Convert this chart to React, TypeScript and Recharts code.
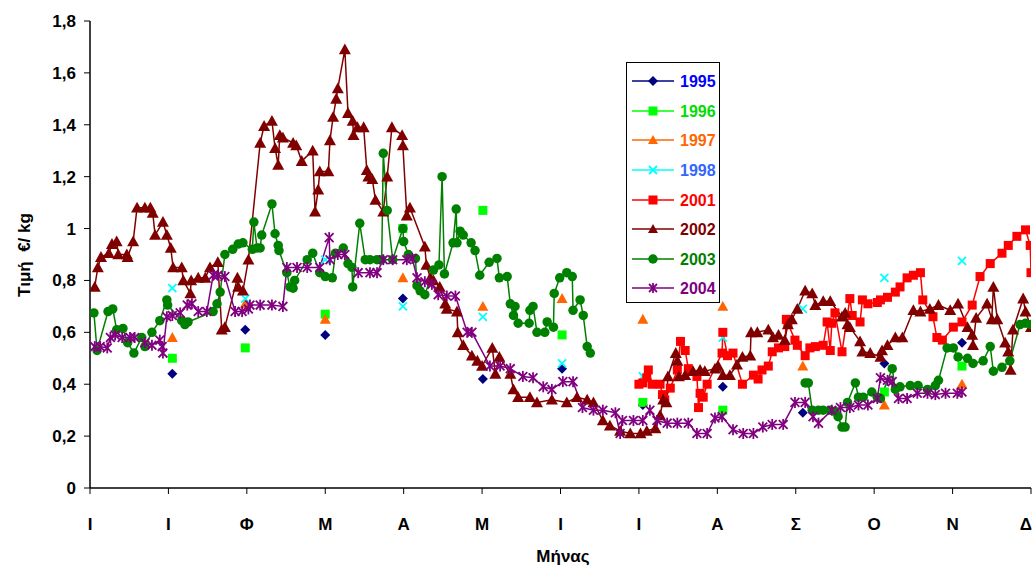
import React from 'react';
import { LineChart, Line, XAxis, YAxis, Label } from 'recharts';

// ---- axis data ----
const monthLabels = ['Ι', 'Ι', 'Φ', 'Μ', 'Α', 'Μ', 'Ι', 'Ι', 'Α', 'Σ', 'Ο', 'Ν', 'Δ'];
const monthTicks = [0, 1, 2, 3, 4, 5, 6, 7, 8, 9, 10, 11, 12];
const valueTicks = [0, 0.2, 0.4, 0.6, 0.8, 1, 1.2, 1.4, 1.6, 1.8];

// ---- monthly (sparse) series ----
const sparseX = [1.05, 1.98, 3.0, 3.99, 5.01, 6.02, 7.05, 8.07, 9.09, 10.13, 11.12];
const v1995 = [0.44, 0.61, 0.59, 0.73, 0.42, 0.46, 0.32, 0.39, 0.29, 0.48, 0.56];
const v1996 = [0.5, 0.54, 0.67, 1.0, 1.07, 0.59, 0.33, 0.3, null, 0.37, 0.47];
const v1997 = [0.58, 0.71, 0.65, 0.81, 0.7, 0.73, 0.65, 0.7, 0.47, 0.32, 0.4];
const v1998 = [0.77, 0.73, 0.88, 0.7, 0.66, 0.48, 0.43, 0.58, 0.69, 0.81, 0.875];

// ---- daily series [month position, €/kg] ----
const s2001: [number, number | null][] = [
  [7.0, 0.4], [7.05, 0.405], [7.1, 0.425], [7.12, 0.455], [7.17, 0.4], [7.27, 0.4], [7.3, 0.36], [7.33, 0.34],
  [7.4, 0.385], [7.49, 0.455], [7.53, 0.565], [7.59, 0.53], [7.63, 0.46], [7.74, 0.43], [7.76, 0.31], [7.78, 0.365],
  [7.82, 0.35], [7.87, 0.4], [8.06, 0.52], [8.07, 0.6], [8.13, 0.51], [8.2, 0.52], [8.32, 0.4], [8.46, 0.435],
  [8.52, 0.42], [8.57, 0.455], [8.65, 0.47], [8.7, 0.525], [8.78, 0.54], [8.86, 0.545], [8.88, 0.65], [8.9, 0.635],
  [8.99, 0.57], [9.02, 0.55], [9.12, 0.51], [9.18, 0.54], [9.25, 0.545], [9.35, 0.55], [9.4, 0.64], [9.44, 0.53],
  [9.46, 0.635], [9.5, 0.675], [9.59, 0.525], [9.69, 0.73], [9.72, 0.665], [9.82, 0.64], [9.85, 0.725], [9.92, 0.71],
  [10.04, 0.715], [10.08, 0.725], [10.17, 0.735], [10.27, 0.755], [10.33, 0.775], [10.42, 0.81], [10.5, 0.82],
  [10.59, 0.83], [10.62, 0.725], [10.75, 0.66], [10.8, 0.58], [10.87, 0.57], [11.01, 0.62], [11.12, 0.64],
  [11.25, 0.705], [11.35, 0.815], [11.48, 0.865], [11.63, 0.905], [11.71, 0.935], [11.82, 0.97], [11.93, 0.995],
  [11.99, 0.935], [12.0, 0.83],
];

const s2002: [number, number | null][] = [
  [0.06, 0.775], [0.1, 0.85], [0.14, 0.89], [0.24, 0.905], [0.28, 0.94], [0.34, 0.95], [0.36, 0.9], [0.47, 0.9],
  [0.48, 0.89], [0.55, 0.95], [0.6, 1.08], [0.7, 1.08], [0.77, 1.08], [0.8, 1.06], [0.83, 0.975], [0.93, 1.025],
  [0.98, 0.975], [1.03, 0.925], [1.06, 0.85], [1.17, 0.85], [1.19, 0.8], [1.28, 0.75], [1.29, 0.8], [1.38, 0.81],
  [1.47, 0.81], [1.53, 0.85], [1.63, 0.87], [1.68, 0.61], [1.72, 0.62], [1.88, 0.81], [1.89, 0.775], [1.95, 0.76],
  [2.02, 0.88], [2.17, 1.33], [2.22, 1.395], [2.32, 1.415], [2.36, 1.31], [2.4, 1.245], [2.42, 1.36], [2.46, 1.35],
  [2.59, 1.33], [2.63, 1.32], [2.7, 1.26], [2.84, 1.3], [2.87, 1.065], [2.91, 1.15], [2.93, 1.22], [3.04, 1.22],
  [3.06, 1.34], [3.1, 1.43], [3.14, 1.5], [3.16, 1.54], [3.25, 1.69], [3.29, 1.445], [3.35, 1.415], [3.36, 1.36],
  [3.41, 1.39], [3.49, 1.39], [3.53, 1.225], [3.55, 1.2], [3.6, 1.19], [3.64, 1.11], [3.74, 1.065], [3.79, 1.2],
  [3.85, 1.39], [3.98, 1.36], [3.99, 1.32], [4.04, 1.05], [4.08, 1.08], [4.27, 0.93], [4.29, 0.86], [4.34, 0.81],
  [4.38, 0.8], [4.46, 0.775], [4.53, 0.71], [4.55, 0.69], [4.68, 0.68], [4.69, 0.6], [4.76, 0.55], [4.87, 0.51],
  [4.94, 0.49], [5.0, 0.47], [5.13, 0.54], [5.17, 0.44], [5.22, 0.505], [5.36, 0.44], [5.4, 0.38], [5.46, 0.35],
  [5.61, 0.35], [5.7, 0.33], [5.89, 0.34], [6.08, 0.33], [6.21, 0.35], [6.34, 0.34], [6.42, 0.33], [6.54, 0.26],
  [6.63, 0.24], [6.76, 0.22], [6.89, 0.21], [7.02, 0.21], [7.1, 0.22], [7.21, 0.23], [7.27, 0.28], [7.31, 0.34],
  [7.35, 0.33], [7.37, 0.43], [7.47, 0.52], [7.49, 0.49], [7.51, 0.43], [7.59, 0.435], [7.69, 0.45], [7.78, 0.455],
  [7.84, 0.45], [7.97, 0.46], [8.01, 0.47], [8.07, 0.435], [8.16, 0.435], [8.25, 0.475], [8.32, 0.505], [8.42, 0.51],
  [8.43, 0.6], [8.51, 0.6], [8.65, 0.61], [8.71, 0.58], [8.78, 0.59], [8.86, 0.57], [8.9, 0.63], [8.95, 0.65],
  [9.02, 0.69], [9.12, 0.76], [9.21, 0.75], [9.25, 0.705], [9.35, 0.72], [9.44, 0.72], [9.59, 0.66], [9.63, 0.675],
  [9.66, 0.63], [9.69, 0.62], [9.82, 0.565], [9.85, 0.525], [9.95, 0.52], [10.08, 0.505], [10.1, 0.53], [10.17, 0.55],
  [10.27, 0.58], [10.36, 0.58], [10.5, 0.685], [10.59, 0.68], [10.71, 0.69], [10.82, 0.705], [10.97, 0.685],
  [11.07, 0.71], [11.19, 0.62], [11.25, 0.59], [11.26, 0.55], [11.3, 0.655], [11.44, 0.71], [11.5, 0.65],
  [11.52, 0.775], [11.57, 0.65], [11.67, 0.56], [11.71, 0.525], [11.74, 0.455], [11.77, 0.61], [11.9, 0.73],
  [11.93, 0.68], [12.0, 0.62],
];

const s2003: [number, number | null][] = [
  [0.05, 0.675], [0.09, 0.53], [0.23, 0.68], [0.29, 0.69], [0.34, 0.61], [0.42, 0.615], [0.48, 0.56], [0.56, 0.52],
  [0.66, 0.58], [0.7, 0.545], [0.79, 0.6], [0.89, 0.645], [0.98, 0.725], [0.99, 0.705], [1.17, 0.645], [1.21, 0.63],
  [1.25, 0.64], [1.57, 0.68], [1.62, 0.71], [1.66, 0.755], [1.72, 0.9], [1.82, 0.92], [1.89, 0.94], [1.95, 0.945],
  [2.07, 0.92], [2.09, 1.025], [2.13, 0.925], [2.17, 0.925], [2.19, 0.975], [2.32, 1.095], [2.36, 0.98], [2.4, 0.935],
  [2.41, 0.915], [2.51, 0.83], [2.55, 0.775], [2.59, 0.77], [2.61, 0.8], [2.77, 0.88], [2.84, 0.905], [2.93, 0.83],
  [3.0, 0.815], [3.09, 0.81], [3.13, 0.905], [3.23, 0.925], [3.29, 0.865], [3.34, 0.85], [3.35, 0.775], [3.44, 1.02],
  [3.51, 0.88], [3.57, 0.88], [3.66, 0.88], [3.72, 0.88], [3.74, 1.29], [3.79, 1.07], [3.86, 0.88], [3.99, 1.0],
  [4.0, 0.95], [4.06, 0.9], [4.15, 0.885], [4.17, 0.78], [4.21, 0.76], [4.27, 0.745], [4.38, 0.84], [4.45, 0.86],
  [4.49, 1.2], [4.52, 0.825], [4.63, 0.945], [4.67, 1.075], [4.68, 0.945], [4.72, 0.99], [4.76, 0.975], [4.86, 0.945],
  [4.91, 0.915], [4.97, 0.82], [5.09, 0.87], [5.19, 0.885], [5.22, 0.81], [5.32, 0.815], [5.36, 0.71], [5.4, 0.665],
  [5.42, 0.7], [5.46, 0.635], [5.6, 0.635], [5.61, 0.685], [5.65, 0.7], [5.7, 0.6], [5.8, 0.6], [5.83, 0.64],
  [5.91, 0.62], [5.92, 0.75], [5.99, 0.81], [6.08, 0.83], [6.15, 0.815], [6.16, 0.685], [6.25, 0.725], [6.29, 0.665],
  [6.34, 0.545], [6.38, 0.52], [7.5, null],
  [9.12, 0.405], [9.16, 0.405], [9.21, 0.3], [9.29, 0.3], [9.35, 0.3], [9.44, 0.3], [9.5, 0.295], [9.54, 0.275],
  [9.59, 0.235], [9.63, 0.235], [9.66, 0.33], [9.76, 0.405], [9.8, 0.35], [9.86, 0.35], [9.97, 0.37], [10.04, 0.35],
  [10.08, 0.345], [10.23, 0.46], [10.27, 0.38], [10.33, 0.39], [10.46, 0.395], [10.56, 0.395], [10.68, 0.38],
  [10.78, 0.395], [10.82, 0.415], [10.93, 0.54], [11.01, 0.54], [11.07, 0.505], [11.19, 0.5], [11.26, 0.48],
  [11.39, 0.49], [11.48, 0.545], [11.52, 0.45], [11.63, 0.465], [11.73, 0.49], [11.86, 0.63], [11.93, 0.635],
  [12.0, 0.63],
];

const s2004: [number, number | null][] = [
  [0.06, 0.545], [0.13, 0.545], [0.22, 0.54], [0.26, 0.58], [0.32, 0.59], [0.41, 0.58], [0.51, 0.58], [0.57, 0.58],
  [0.7, 0.56], [0.79, 0.55], [0.89, 0.57], [0.92, 0.545], [0.93, 0.52], [0.98, 0.66], [1.05, 0.665], [1.15, 0.675],
  [1.24, 0.705], [1.3, 0.71], [1.38, 0.68], [1.49, 0.68], [1.57, 0.82], [1.63, 0.82], [1.72, 0.815], [1.85, 0.68],
  [1.94, 0.68], [2.02, 0.69], [2.04, 0.705], [2.17, 0.705], [2.32, 0.705], [2.46, 0.7], [2.51, 0.85], [2.64, 0.85],
  [2.77, 0.85], [2.93, 0.85], [3.05, 0.965], [3.06, 0.88], [3.16, 0.9], [3.25, 0.9], [3.42, 0.83], [3.57, 0.83],
  [3.66, 0.83], [3.74, 0.88], [3.86, 0.88], [4.04, 0.88], [4.11, 0.885], [4.17, 0.81], [4.27, 0.795], [4.36, 0.785],
  [4.44, 0.745], [4.55, 0.74], [4.66, 0.74], [4.81, 0.6], [4.87, 0.6], [5.1, 0.47], [5.23, 0.47], [5.36, 0.46],
  [5.52, 0.43], [5.65, 0.425], [5.78, 0.39], [5.89, 0.38], [6.03, 0.41], [6.16, 0.41], [6.28, 0.31], [6.42, 0.3],
  [6.54, 0.3], [6.7, 0.29], [6.76, 0.21], [6.79, 0.26], [6.93, 0.26], [7.05, 0.26], [7.14, 0.3], [7.23, 0.26],
  [7.36, 0.25], [7.49, 0.25], [7.63, 0.25], [7.74, 0.21], [7.87, 0.21], [7.97, 0.27], [8.06, 0.275], [8.2, 0.225],
  [8.33, 0.21], [8.46, 0.21], [8.58, 0.235], [8.7, 0.245], [8.84, 0.245], [8.99, 0.33], [9.12, 0.33], [9.22, 0.275],
  [9.29, 0.25], [9.46, 0.3], [9.57, 0.31], [9.69, 0.31], [9.8, 0.32], [9.92, 0.32], [10.04, 0.345], [10.08, 0.425],
  [10.17, 0.415], [10.23, 0.41], [10.31, 0.345], [10.42, 0.345], [10.55, 0.365], [10.68, 0.365], [10.78, 0.36],
  [10.91, 0.365], [11.06, 0.365], [11.12, 0.37],
];

type Shape = 'diamond' | 'square' | 'triangle' | 'cross' | 'circle' | 'star';

interface SeriesDef {
  name: string;
  color: string;
  textColor: string;
  shape: Shape;
  size: number;
  line: boolean;
  data: { x: number; y: number | null }[];
}

const fromSparse = (vals: (number | null)[]) => sparseX.map((x, i) => ({ x, y: vals[i] }));
const fromPairs = (pairs: [number, number | null][]) => pairs.map(([x, y]) => ({ x, y }));

const series: SeriesDef[] = [
  { name: '1995', color: '#000080', textColor: '#0000ff', shape: 'diamond', size: 10, line: false, data: fromSparse(v1995) },
  { name: '1996', color: '#00ff00', textColor: '#00dd00', shape: 'square', size: 9, line: false, data: fromSparse(v1996) },
  { name: '1997', color: '#ff6600', textColor: '#ff6600', shape: 'triangle', size: 11, line: false, data: fromSparse(v1997) },
  { name: '1998', color: '#00ffff', textColor: '#3366ff', shape: 'cross', size: 10, line: false, data: fromSparse(v1998) },
  { name: '2001', color: '#ff0000', textColor: '#ff0000', shape: 'square', size: 9, line: true, data: fromPairs(s2001) },
  { name: '2002', color: '#800000', textColor: '#800000', shape: 'triangle', size: 12, line: true, data: fromPairs(s2002) },
  { name: '2003', color: '#008000', textColor: '#008000', shape: 'circle', size: 9.5, line: true, data: fromPairs(s2003) },
  { name: '2004', color: '#800080', textColor: '#800080', shape: 'star', size: 11, line: true, data: fromPairs(s2004) },
];

const FONT = '"Liberation Sans", Arial, sans-serif';

const Marker = ({ shape, cx, cy, color, size }: { shape: Shape; cx: number; cy: number; color: string; size: number }) => {
  const s = size / 2;
  switch (shape) {
    case 'diamond':
      return <polygon points={`${cx},${cy - s} ${cx + s},${cy} ${cx},${cy + s} ${cx - s},${cy}`} fill={color} />;
    case 'square':
      return <rect x={cx - s} y={cy - s} width={size} height={size} fill={color} />;
    case 'triangle':
      return <polygon points={`${cx},${cy - s} ${cx + s},${cy + s * 0.8} ${cx - s},${cy + s * 0.8}`} fill={color} />;
    case 'circle':
      return <circle cx={cx} cy={cy} r={s} fill={color} />;
    case 'cross':
      return (
        <g stroke={color} strokeWidth={1.8}>
          <line x1={cx - s * 0.8} y1={cy - s * 0.8} x2={cx + s * 0.8} y2={cy + s * 0.8} />
          <line x1={cx - s * 0.8} y1={cy + s * 0.8} x2={cx + s * 0.8} y2={cy - s * 0.8} />
        </g>
      );
    case 'star':
    default:
      return (
        <g stroke={color} strokeWidth={1.8}>
          <line x1={cx - s * 0.8} y1={cy - s * 0.8} x2={cx + s * 0.8} y2={cy + s * 0.8} />
          <line x1={cx - s * 0.8} y1={cy + s * 0.8} x2={cx + s * 0.8} y2={cy - s * 0.8} />
          <line x1={cx} y1={cy - s} x2={cx} y2={cy + s} />
        </g>
      );
  }
};

const makeDot = (def: SeriesDef) => (props: any) => {
  const { cx, cy, index, value } = props;
  const key = `dot-${def.name}-${index}`;
  if (cx == null || cy == null || value == null || Number.isNaN(cy)) return <g key={key} />;
  return (
    <g key={key}>
      <Marker shape={def.shape} cx={cx} cy={cy} color={def.color} size={def.size} />
    </g>
  );
};

const XTick = (props: any) => {
  const { x, y, payload } = props;
  const isLast = payload.value === monthTicks[monthTicks.length - 1];
  return (
    <text
      x={isLast ? 1032 : x}
      y={y + 34}
      textAnchor={isLast ? 'end' : 'middle'}
      fontFamily={FONT}
      fontWeight="bold"
      fontSize={17}
      fill="#000"
    >
      {monthLabels[payload.value]}
    </text>
  );
};

const fmtValue = (v: number) => (Number.isInteger(v) ? String(v) : v.toFixed(1).replace('.', ','));

const YTick = (props: any) => {
  const { x, y, payload } = props;
  return (
    <text x={x - 6} y={y + 6} textAnchor="end" fontFamily={FONT} fontWeight="bold" fontSize={17} fill="#000">
      {fmtValue(payload.value)}
    </text>
  );
};

const legendRowsY = [81, 111, 140, 170, 200, 229, 259, 288];

const LegendBox = () => (
  <svg width={1033} height={568} style={{ position: 'absolute', left: 0, top: 0, pointerEvents: 'none' }}>
    <rect x={626.5} y={62.5} width={93} height={240} fill="#fff" stroke="#000" strokeWidth={1} />
    {series.map((s, i) => {
      const y = legendRowsY[i];
      return (
        <g key={s.name}>
          <line x1={632} y1={y} x2={674} y2={y} stroke={s.color} strokeWidth={1.5} />
          <Marker shape={s.shape} cx={653} cy={y} color={s.color} size={Math.min(s.size, 10)} />
          <text x={680} y={y + 6} fontFamily={FONT} fontWeight="bold" fontSize={16} fill={s.textColor}>
            {s.name}
          </text>
        </g>
      );
    })}
  </svg>
);

export default function App() {
  return (
    <div style={{ position: 'absolute', left: 0, top: 0, width: 1033, height: 568, background: '#fff' }}>
      <LineChart width={1033} height={568} margin={{ top: 21, right: 2, bottom: 0, left: 0 }}>
        <XAxis
          type="number"
          dataKey="x"
          domain={[0, 12]}
          ticks={monthTicks}
          interval={0}
          allowDataOverflow
          height={80}
          tick={<XTick />}
          tickSize={6}
          tickLine={{ stroke: '#000', strokeWidth: 1 }}
          axisLine={{ stroke: '#000', strokeWidth: 1.5 }}
        >
          <Label
            content={() => (
              <text x={563} y={562} textAnchor="middle" fontFamily={FONT} fontWeight="bold" fontSize={17} fill="#000">
                Μήνας
              </text>
            )}
          />
        </XAxis>
        <YAxis
          type="number"
          domain={[0, 1.8]}
          ticks={valueTicks}
          interval={0}
          allowDataOverflow
          width={90}
          tick={<YTick />}
          tickSize={6}
          tickLine={{ stroke: '#000', strokeWidth: 1 }}
          axisLine={{ stroke: '#000', strokeWidth: 1.5 }}
        >
          <Label
            content={() => (
              <text
                x={24}
                y={255}
                transform="rotate(-90, 24, 255)"
                textAnchor="middle"
                dominantBaseline="central"
                fontFamily={FONT}
                fontWeight="bold"
                fontSize={17}
                fill="#000"
              >
                {'Τιμή\u00a0 €/ kg'}
              </text>
            )}
          />
        </YAxis>
        {series.map((s) => (
          <Line
            key={s.name}
            data={s.data}
            dataKey="y"
            name={s.name}
            type="linear"
            stroke={s.line ? s.color : 'none'}
            strokeWidth={1.5}
            dot={makeDot(s)}
            activeDot={false}
            connectNulls={false}
            isAnimationActive={false}
          />
        ))}
      </LineChart>
      <LegendBox />
    </div>
  );
}
